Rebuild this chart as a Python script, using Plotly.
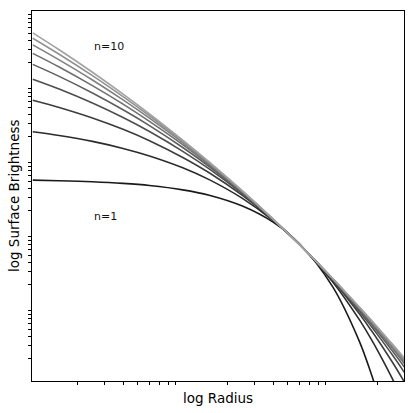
import plotly.graph_objects as go

# radii sampled along the curves (same for every profile)
radius = [1, 1.5, 2.5, 4, 6, 10, 15, 25, 40, 60, 100, 150, 180, 200, 250, 300]

# surface brightness, n = 1 .. 9
sb_n1 = [5.18, 5.09, 4.92, 4.68, 4.38, 3.83, 3.24, 2.31, 1.40, 0.715, 0.187, 0.0349, 0.0127, 0.00652, 0.00122, 0.000227]
sb_n2 = [23.4, 20.8, 17.3, 13.9, 11.0, 7.61, 5.26, 2.93, 1.47, 0.704, 0.2185, 0.0680, 0.0371, 0.0254, 0.0107, 0.00488]
sb_n3 = [62.3, 49.8, 35.9, 25.2, 17.7, 10.5, 6.52, 3.22, 1.50, 0.701, 0.229, 0.0815, 0.0488, 0.0358, 0.0179, 0.00972]
sb_n4 = [119.7, 88.1, 57.0, 36.3, 23.5, 12.7, 7.34, 3.39, 1.52, 0.700, 0.234, 0.0886, 0.0553, 0.0417, 0.0224, 0.0131]
sb_n5 = [190.1, 130.9, 78.1, 46.3, 28.3, 14.3, 7.92, 3.49, 1.52, 0.699, 0.2375, 0.0929, 0.0594, 0.0455, 0.0254, 0.0155]
sb_n6 = [267.5, 174.9, 98.0, 55.1, 32.2, 15.6, 8.34, 3.57, 1.53, 0.698, 0.240, 0.0957, 0.0622, 0.0482, 0.0276, 0.0172]
sb_n7 = [348.2, 218.2, 116.7, 62.8, 35.6, 16.6, 8.67, 3.63, 1.54, 0.698, 0.241, 0.0979, 0.0643, 0.0501, 0.0292, 0.0185]
sb_n8 = [427.9, 259.9, 133.6, 69.6, 38.4, 17.4, 8.92, 3.67, 1.54, 0.696, 0.242, 0.0995, 0.0659, 0.0516, 0.0304, 0.0196]
sb_n9 = [506.8, 299.3, 148.7, 75.4, 40.8, 18.0, 9.13, 3.70, 1.54, 0.697, 0.243, 0.1008, 0.0671, 0.0528, 0.0315, 0.0204]
profiles = [sb_n1, sb_n2, sb_n3, sb_n4, sb_n5, sb_n6, sb_n7, sb_n8, sb_n9]

line_colors = ["#1a1a1a", "#2b2b2b", "#3c3c3c", "#4d4d4d", "#5e5e5e",
               "#6f6f6f", "#808080", "#919191", "#a2a2a2"]

# only the minor ticks are left on the axes
x_ticks = [2, 3, 4, 5, 6, 7, 8, 9, 20, 30, 40, 50, 60, 70, 80, 90, 200]
y_ticks = [0.02, 0.03, 0.04, 0.05, 0.06, 0.07, 0.08, 0.09,
           0.2, 0.3, 0.4, 0.5, 0.6, 0.7, 0.8, 0.9,
           2, 3, 4, 5, 6, 7, 8, 9,
           20, 30, 40, 50, 60, 70, 80, 90,
           200, 300, 400, 500, 600, 700, 800, 900]

fig = go.Figure()
for sb, col in zip(profiles, line_colors):
    fig.add_trace(go.Scatter(
        x=radius,
        y=sb,
        mode="lines",
        line=dict(color=col, width=1.6, shape="spline"),
        showlegend=False,
        hoverinfo="skip"
    ))

fig.add_annotation(x=0.393, y=2.52, text="n=10", showarrow=False,
                   xanchor="left", yanchor="middle", font=dict(size=11, color="#111111"))
fig.add_annotation(x=0.393, y=0.224, text="n=1", showarrow=False,
                   xanchor="left", yanchor="middle", font=dict(size=11, color="#111111"))

# axis titles, placed by hand so the margins stay fixed
fig.add_annotation(x=0.5, y=0, xref="paper", yref="paper", yshift=-17,
                   text="log Radius", showarrow=False,
                   xanchor="center", yanchor="middle", font=dict(size=13.5, color="black"))
fig.add_annotation(x=0, y=0.5, xref="paper", yref="paper", xshift=-18,
                   text="log Surface Brightness", showarrow=False, textangle=-90,
                   xanchor="center", yanchor="middle", font=dict(size=13.5, color="black"))

axis_style = dict(
    showgrid=False, zeroline=False, automargin=False,
    showline=True, linecolor="black", linewidth=1, mirror=True,
    ticks="outside", ticklen=3, tickwidth=1, tickcolor="black",
    showticklabels=False,
)

fig.update_xaxes(type="log", range=[-0.005, 2.475], tickvals=x_ticks, **axis_style)
fig.update_yaxes(type="log", range=[-2, 3], tickvals=y_ticks, **axis_style)

fig.update_layout(
    width=415, height=413,
    margin=dict(l=32, r=11, t=11, b=32),
    plot_bgcolor="white", paper_bgcolor="white",
    font=dict(family="DejaVu Sans", color="black"),
)

# drop the default page margin so the figure sits at the window corner
fig.write_html("out.html", config={"displayModeBar": False},
               post_script="document.body.style.margin = '0';")
